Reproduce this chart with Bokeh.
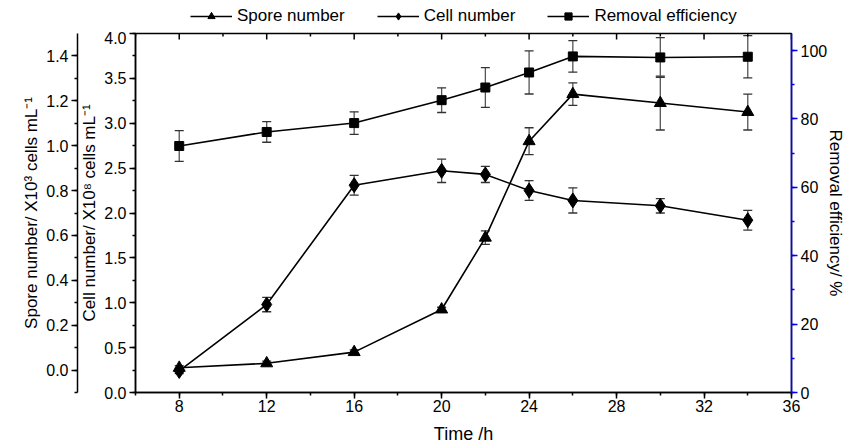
import math
from bokeh.plotting import figure
from bokeh.layouts import column
from bokeh.models import (LinearAxis, Range1d, SingleIntervalTicker, Whisker, TeeHead,
                          ColumnDataSource, Legend, LegendItem, PrintfTickFormatter)
from bokeh.embed import file_html
from bokeh.resources import INLINE

# ---- data ----
time_h = [8, 12, 16, 20, 22, 24, 26, 30, 34]
spore = [0.01, 0.03, 0.08, 0.27, 0.59, 1.02, 1.23, 1.19, 1.15]
spore_err = [0.01, 0.01, 0.01, 0.01, 0.03, 0.06, 0.05, 0.12, 0.08]
cell = [0.24, 0.98, 2.31, 2.47, 2.43, 2.25, 2.14, 2.08, 1.92]
cell_err = [0.03, 0.08, 0.11, 0.13, 0.09, 0.11, 0.14, 0.08, 0.11]
removal = [72.1, 76.2, 78.8, 85.5, 89.2, 93.6, 98.3, 98.0, 98.2]
removal_err = [4.5, 3.0, 3.3, 3.6, 5.8, 6.3, 4.6, 5.8, 6.2]
x_major = [8, 12, 16, 20, 24, 28, 32, 36]
x_minor = [6, 10, 14, 18, 22, 26, 30, 34]
series_names = ["Spore number", "Cell number", "Removal efficiency"]

FONT = "Liberation Sans"
TICK_FS = "16px"
LABEL_FS = "17px"
TOP_H = 31

src = ColumnDataSource(dict(
    t=time_h,
    spore=spore, sp_lo=[v - e for v, e in zip(spore, spore_err)], sp_hi=[v + e for v, e in zip(spore, spore_err)],
    cell=cell, ce_lo=[v - e for v, e in zip(cell, cell_err)], ce_hi=[v + e for v, e in zip(cell, cell_err)],
    rem=removal, re_lo=[v - e for v, e in zip(removal, removal_err)], re_hi=[v + e for v, e in zip(removal, removal_err)],
))

p = figure(width=853, height=446 - TOP_H, x_range=Range1d(6, 36), y_range=Range1d(0, 4),
           output_backend="svg", toolbar_location=None,
           min_border_left=135, min_border_right=62, min_border_top=33 - TOP_H, min_border_bottom=52)
p.extra_y_ranges = {"spore": Range1d(-0.1, 1.5), "removal": Range1d(0, 105)}
p.grid.visible = False
p.outline_line_color = "black"
p.outline_line_width = 1.5
p.background_fill_color = "white"
p.border_fill_color = "white"


def style_axis(ax, color="black"):
    ax.axis_line_color = color
    ax.axis_line_width = 1.5
    ax.major_tick_line_color = color
    ax.minor_tick_line_color = color
    ax.major_tick_line_width = 1.5
    ax.minor_tick_line_width = 1.5
    ax.major_label_text_font = FONT
    ax.major_label_text_font_size = TICK_FS
    ax.major_label_text_color = "black"
    ax.axis_label_text_font = FONT
    ax.axis_label_text_font_size = LABEL_FS
    ax.axis_label_text_font_style = "normal"
    ax.axis_label_text_color = "black"
    ax.major_tick_in = 0
    ax.major_tick_out = 6
    ax.minor_tick_in = 0
    ax.minor_tick_out = 3


# bottom axis
xa = p.xaxis[0]
xa.ticker = SingleIntervalTicker(interval=4, num_minor_ticks=2)
style_axis(xa)
xa.axis_label = "Time /h"
xa.axis_label_text_font_size = "18px"
xa.major_label_standoff = 1
xa.axis_label_standoff = 9

# cell axis (inner left)
ya = p.yaxis[0]
ya.ticker = SingleIntervalTicker(interval=0.5, num_minor_ticks=2)
ya.formatter = PrintfTickFormatter(format="%.1f")
style_axis(ya)
ya.axis_label = "Cell number/ X10\u2078 cells mL\u207b\u00b9"
ya.major_label_standoff = 3
ya.axis_label_standoff = 2

# spore axis (outer left)
sa = LinearAxis(y_range_name="spore", ticker=SingleIntervalTicker(interval=0.2, num_minor_ticks=2),
                formatter=PrintfTickFormatter(format="%.1f"))
style_axis(sa)
sa.axis_label = "Spore number/ X10\u00b3 cells mL\u207b\u00b9"
sa.major_label_standoff = 3
sa.axis_label_standoff = 2
p.add_layout(sa, "left")

# removal axis (right, blue)
ra = LinearAxis(y_range_name="removal", ticker=SingleIntervalTicker(interval=20, num_minor_ticks=2))
style_axis(ra, color="blue")
ra.axis_label = "Removal efficiency/ %"
ra.major_label_standoff = 3
ra.axis_label_standoff = -4
p.add_layout(ra, "right")

# inward ticks along the top edge of the frame
p.ray(x=x_major, y=[4] * len(x_major), length=6, length_units="screen", angle=-math.pi / 2,
      line_color="black", line_width=1.5)
p.ray(x=x_minor, y=[4] * len(x_minor), length=3, length_units="screen", angle=-math.pi / 2,
      line_color="black", line_width=1.5)

# error bars
for lo, hi, rn in [("sp_lo", "sp_hi", "spore"), ("ce_lo", "ce_hi", "default"), ("re_lo", "re_hi", "removal")]:
    w = Whisker(base="t", lower=lo, upper=hi, source=src, y_range_name=rn,
                line_color="#555555", line_width=1.3,
                upper_head=TeeHead(size=9, line_color="#333333", line_width=1.3),
                lower_head=TeeHead(size=9, line_color="#333333", line_width=1.3))
    p.add_layout(w)

# series
p.line("t", "spore", source=src, y_range_name="spore", line_color="black", line_width=1.6)
p.scatter("t", "spore", source=src, y_range_name="spore", marker="triangle", size=12,
          fill_color="black", line_color="black")
p.line("t", "cell", source=src, line_color="black", line_width=1.6)
p.scatter("t", "cell", source=src, marker="diamond", size=15, fill_color="black", line_color="black")
p.line("t", "rem", source=src, y_range_name="removal", line_color="black", line_width=1.6)
p.scatter("t", "rem", source=src, y_range_name="removal", marker="square", size=9,
          fill_color="black", line_color="black")

# ---- legend strip above the plot (its frame is aligned with the main frame) ----
lf = figure(width=853, height=TOP_H, x_range=Range1d(6, 36), y_range=Range1d(0, 4),
            output_backend="svg", toolbar_location=None, min_border=0,
            x_axis_location=None, y_axis_location=None)
lf.grid.visible = False
lf.outline_line_color = None
lf.background_fill_color = "white"
lf.border_fill_color = "white"
items = []
for name, col, mk, sz in [(series_names[0], "spore", "triangle", 12),
                          (series_names[1], "cell", "diamond", 15),
                          (series_names[2], "rem", "square", 9)]:
    lr = lf.line("t", col, source=src, line_color="black", line_width=1.6, visible=False)
    mr = lf.scatter("t", col, source=src, marker=mk, size=sz, fill_color="black", line_color="black",
                    visible=False)
    items.append(LegendItem(label=name, renderers=[lr, mr]))

legend = Legend(items=items, orientation="horizontal", location=(55, 5),
                border_line_color=None, background_fill_alpha=0,
                glyph_width=42, glyph_height=18, label_height=18, label_standoff=5, spacing=32,
                padding=0, margin=0,
                label_text_font=FONT, label_text_font_size=LABEL_FS, label_text_color="black")
lf.add_layout(legend, "center")

layout = column(lf, p, spacing=0)
open("out.html", "w").write(file_html(layout, INLINE))
